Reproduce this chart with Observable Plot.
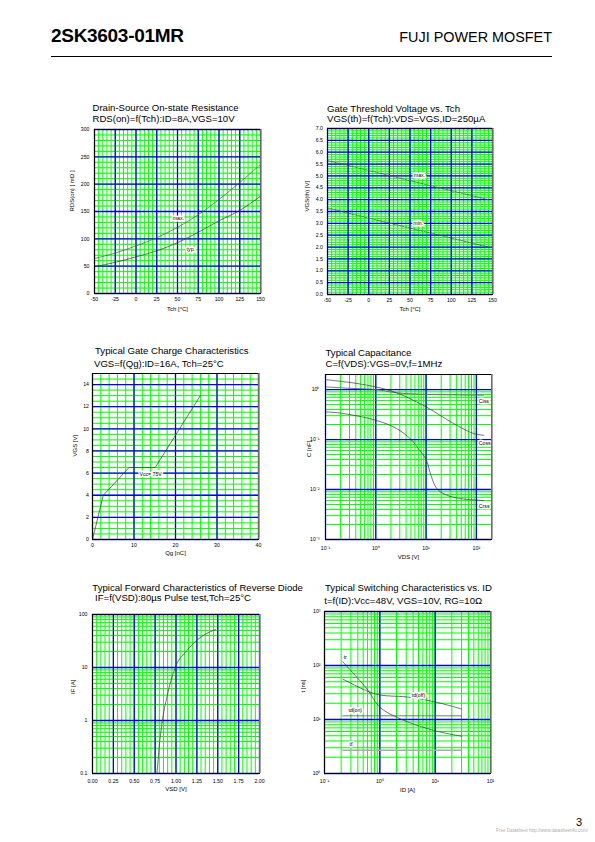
<!DOCTYPE html>
<html><head><meta charset="utf-8">
<script src="https://cdn.jsdelivr.net/npm/d3@7"></script>
<script src="https://cdn.jsdelivr.net/npm/@observablehq/plot@0.6"></script>
<style>
body{margin:0;background:#fff;}
#page{position:relative;width:595px;height:842px;overflow:hidden;font-family:"Liberation Sans",Arial,Helvetica,sans-serif;color:#000;background:#fff;}
.t{position:absolute;white-space:nowrap;}
</style></head><body><div id="page"></div>
<script>
// ---------- DATA ----------
// 1. Drain-Source On-state Resistance
const rdsTch = [-50, -25, 0, 25, 50, 75, 100, 125, 150];
const rdsTyp = [49, 57, 67, 78, 93, 112, 133, 152, 178];
const rdsMax = [64, 74, 87, 102, 121, 144, 172, 203, 236];
const rdsXTicks = [-50, -25, 0, 25, 50, 75, 100, 125, 150];
const rdsYTicks = [0, 50, 100, 150, 200, 250, 300];

// 2. Gate Threshold Voltage
const vthTch = [-50, 0, 50, 100, 145];
const vthMax = [5.65, 5.23, 4.8, 4.38, 4.0];
const vthMin = [3.65, 3.22, 2.8, 2.38, 2.0];
const vthXTicks = [-50, -25, 0, 25, 50, 75, 100, 125, 150];
const vthYTicks = [0.0, 0.5, 1.0, 1.5, 2.0, 2.5, 3.0, 3.5, 4.0, 4.5, 5.0, 5.5, 6.0, 6.5, 7.0];

// 3. Gate Charge
const qgQ = [0, 2.6, 8.8, 15.1, 26];
const qgV = [0, 4.0, 6.5, 6.5, 13.0];
const qgXTicks = [0, 10, 20, 30, 40];
const qgYTicks = [0, 2, 4, 6, 8, 10, 12, 14];

// 4. Capacitance
const cissV = [0.1, 0.3, 1, 2.6, 10, 140];
const cissC = [1.13, 1.06, 1.0, 0.86, 0.80, 0.77];
const cossV = [0.1, 0.35, 1, 2.6, 10, 35, 88, 140];
const cossC = [1.58, 1.36, 1.13, 0.86, 0.45, 0.21, 0.132, 0.122];
const crssV = [0.1, 0.19, 1, 2.6, 5.2, 7, 10, 12, 15, 18, 25, 48, 140];
const crssC = [0.356, 0.34, 0.243, 0.166, 0.097, 0.066, 0.040, 0.022, 0.012, 0.0095, 0.0078, 0.0066, 0.006];
const capXTicks = [0.1, 1, 10, 100];
const capYTicks = [0.001, 0.01, 0.1, 1];

// 5. Reverse diode forward characteristics
const ifV = [0.772, 0.8, 0.832, 0.892, 0.992, 1.132, 1.252, 1.472];
const ifA = [0.1, 0.33, 0.88, 2.8, 10, 21, 33, 52];
const ifXTicks = [0, 0.25, 0.5, 0.75, 1.0, 1.25, 1.5, 1.75, 2.0];
const ifYTicks = [0.1, 1, 10, 100];

// 6. Switching characteristics
const trI = [0.214, 0.44, 0.62, 1.0, 2.33, 9.3, 30];
const trT = [117, 52, 34, 16.9, 10.3, 6.3, 4.9];
const tdoffI = [0.214, 0.58, 1.0, 3.5, 10.7, 30];
const tdoffT = [56, 34, 28.5, 25.8, 20.8, 15.7];
const tdonI = [0.214, 30];
const tdonT = [11.7, 11.7];
const tfI = [0.214, 30];
const tfT = [2.7, 2.7];
const swXTicks = [0.1, 1, 10, 100];
const swYTicks = [1, 10, 100, 1000];

// ---------- HELPERS ----------
const page = document.getElementById("page");
const FONT = '"Liberation Sans", Arial, Helvetica, sans-serif';
function txt(s, x, base, fs, o = {}) {
  const d = document.createElement("div");
  d.className = "t";
  d.textContent = s;
  d.style.fontSize = fs + "px";
  d.style.lineHeight = fs + "px";
  d.style.top = (base - 0.8465 * fs) + "px";
  if (o.anchor === "end") d.style.right = (595 - x) + "px"; else d.style.left = x + "px";
  if (o.weight) d.style.fontWeight = o.weight;
  if (o.color) d.style.color = o.color;
  if (o.ls) d.style.letterSpacing = o.ls;
  page.appendChild(d);
}
const rows = (xs, ys) => xs.map((x, i) => ({x, y: ys[i]}));
function logMinor(lo, hi) {
  const out = [];
  for (let e = Math.floor(Math.log10(lo)); e <= Math.ceil(Math.log10(hi)); e++)
    for (let k = 1; k < 10; k++) { const v = k * Math.pow(10, e); if (v >= lo * 0.999 && v <= hi * 1.001) out.push(v); }
  return out;
}
const SUP = {"-": "\u207B", "0": "\u2070", "1": "\u00B9", "2": "\u00B2", "3": "\u00B3"};
const pow10 = d => "10" + String(Math.round(Math.log10(d))).split("").map(c => SUP[c]).join("");
const GREEN = "#00ff00", BLUE = "#0000f0", CURVE = "#333";
const lbl = (data, extra = {}) => Plot.text(data, {x: "x", y: "y", text: "s", fontSize: 5.2, fill: "#000", stroke: "#fff", strokeWidth: 3, ...extra});

function mk(c) {
  const ml = 40, mr = 16, mt = 8, mb = 30;
  const svg = Plot.plot({
    width: c.R - c.L + ml + mr, height: c.B - c.T + mt + mb,
    marginLeft: ml, marginRight: mr, marginTop: mt, marginBottom: mb,
    x: c.x, y: c.y,
    style: {fontFamily: FONT, fontSize: "5.2px", background: "transparent", color: "#000", overflow: "visible"},
    marks: [
      Plot.ruleX(c.minorX, {stroke: GREEN, strokeWidth: 1}),
      Plot.ruleY(c.minorY, {stroke: GREEN, strokeWidth: 1}),
      Plot.ruleX(c.majorX, {stroke: BLUE, strokeWidth: 1.3}),
      Plot.ruleY(c.majorY, {stroke: BLUE, strokeWidth: 1.3}),
      ...c.marks,
      Plot.frame({stroke: "#000", strokeWidth: 1}),
      Plot.ruleX([c.x.domain[1]], {stroke: "#9a9a9a", strokeWidth: 1.6, dx: 0.6}),
      Plot.axisX(c.majorX, {tickSize: 0, tickPadding: c.xPad, tickFormat: c.xFmt, label: null}),
      Plot.axisY(c.majorY, {tickSize: 0, tickPadding: c.yPad, tickFormat: c.yFmt, label: null}),
      Plot.text([c.xLabel], {frameAnchor: "bottom", dy: c.xOff, fontSize: 6}),
      Plot.text([c.yLabel], {frameAnchor: "left", dx: -c.yOff, rotate: -90, fontSize: 6})
    ]
  });
  svg.style.position = "absolute";
  svg.style.left = (c.L - ml) + "px";
  svg.style.top = (c.T - mt) + "px";
  page.appendChild(svg);
}

// ---------- HEADER ----------
txt("2SK3603-01MR", 51, 41.7, 19, {weight: "bold", ls: "-0.3px"});
txt("FUJI POWER MOSFET", 552, 41.7, 14.4, {anchor: "end"});
const hr = document.createElement("div");
hr.style.cssText = "position:absolute;left:51px;top:55.5px;width:501px;height:1.3px;background:#000;";
page.appendChild(hr);

// ---------- TITLES ----------
const TF = 9.6;
txt("Drain-Source On-state Resistance", 92.5, 110.7, TF);
txt("RDS(on)=f(Tch):ID=8A,VGS=10V", 92.5, 122.3, TF);
txt("Gate Threshold Voltage vs. Tch", 327, 111.7, TF);
txt("VGS(th)=f(Tch):VDS=VGS,ID=250\u00B5A", 327, 122.3, TF);
txt("Typical Gate Charge Characteristics", 95, 354, TF);
txt("VGS=f(Qg):ID=16A, Tch=25\u00B0C", 94, 367.3, TF);
txt("Typical Capacitance", 325.5, 355.7, TF);
txt("C=f(VDS):VGS=0V,f=1MHz", 325.5, 367.3, TF);
txt("Typical Forward Characteristics of Reverse Diode", 92.3, 590.7, TF);
txt("IF=f(VSD):80\u00B5s Pulse test,Tch=25\u00B0C", 95, 601, TF);
txt("Typical Switching Characteristics vs. ID", 325, 590.7, TF);
txt("t=f(ID):Vcc=48V, VGS=10V, RG=10\u03A9", 324.3, 604, TF);

// ---------- CHART 1 ----------
mk({L: 94, R: 260, T: 129, B: 293,
  x: {domain: [-50, 150]}, y: {domain: [0, 300]},
  minorX: d3.range(-50, 150.01, 5), minorY: d3.range(0, 300.01, 10),
  majorX: rdsXTicks, majorY: rdsYTicks, xFmt: d => String(d), yFmt: d => String(d),
  xPad: 4, yPad: 5, xLabel: "Tch [\u00B0C]", yLabel: "RDS(on) [ m\u03A9 ]", xOff: 17, yOff: 22,
  marks: [
    Plot.line(rows(rdsTch, rdsMax), {x: "x", y: "y", stroke: "#555", strokeWidth: 0.7, curve: "catmull-rom"}),
    Plot.line(rows(rdsTch, rdsTyp), {x: "x", y: "y", stroke: CURVE, strokeWidth: 0.7, curve: "catmull-rom"}),
    lbl([{x: 51, y: 137, s: "max."}, {x: 66, y: 80, s: "typ."}])
  ]});

// ---------- CHART 2 ----------
mk({L: 327, R: 492, T: 128, B: 294,
  x: {domain: [-50, 150]}, y: {domain: [0, 7]},
  minorX: d3.range(-50, 150.01, 5), minorY: d3.range(0, 7.001, 0.1),
  majorX: vthXTicks, majorY: vthYTicks, xFmt: d => String(d), yFmt: d3.format(".1f"),
  xPad: 3.5, yPad: 4.5, xLabel: "Tch [\u00B0C]", yLabel: "VGS(th) [V]", xOff: 16.5, yOff: 20.5,
  marks: [
    Plot.line(rows(vthTch, vthMax), {x: "x", y: "y", stroke: "#555", strokeWidth: 0.8, strokeDasharray: "2,1.2"}),
    Plot.line(rows(vthTch, vthMin), {x: "x", y: "y", stroke: "#555", strokeWidth: 0.8, strokeDasharray: "2,1.2"}),
    lbl([{x: 61.5, y: 5.02, s: "max."}, {x: 60, y: 3.0, s: "min."}])
  ]});

// ---------- CHART 3 ----------
mk({L: 92, R: 258, T: 373, B: 539,
  x: {domain: [0, 40]}, y: {domain: [0, 15]},
  minorX: d3.range(0, 40.01, 2), minorY: d3.range(0, 15.001, 0.5),
  majorX: qgXTicks, majorY: qgYTicks, xFmt: d => String(d), yFmt: d => String(d),
  xPad: 4, yPad: 3.5, xLabel: "Qg [nC]", yLabel: "VGS [V]", xOff: 15, yOff: 17.5,
  marks: [
    Plot.line(rows(qgQ, qgV), {x: "x", y: "y", stroke: CURVE, strokeWidth: 0.7}),
    lbl([{x: 14, y: 5.85, s: "Vcc= 75V"}])
  ]});

// ---------- CHART 4 ----------
mk({L: 325, R: 491, T: 374, B: 539,
  x: {type: "log", domain: [0.1, 200]}, y: {type: "log", domain: [0.001, 2]},
  minorX: logMinor(0.1, 200), minorY: logMinor(0.001, 2),
  majorX: capXTicks, majorY: capYTicks, xFmt: pow10, yFmt: pow10,
  xPad: 7, yPad: 6, xLabel: "VDS [V]", yLabel: "C [nF]", xOff: 19, yOff: 16,
  marks: [
    Plot.line(rows(cissV, cissC), {x: "x", y: "y", stroke: "#666", strokeWidth: 0.9, curve: "catmull-rom"}),
    Plot.line(rows(cossV, cossC), {x: "x", y: "y", stroke: CURVE, strokeWidth: 0.7, curve: "catmull-rom"}),
    Plot.line(rows(crssV, crssC), {x: "x", y: "y", stroke: CURVE, strokeWidth: 0.7, curve: "catmull-rom"}),
    lbl([{x: 112, y: 0.58, s: "Ciss"}, {x: 112, y: 0.0855, s: "Coss"}, {x: 112, y: 0.0047, s: "Crss"}], {textAnchor: "start"})
  ]});

// ---------- CHART 5 ----------
mk({L: 92, R: 259, T: 614, B: 773,
  x: {domain: [0, 2]}, y: {type: "log", domain: [0.1, 100]},
  minorX: d3.range(0, 2.001, 0.05), minorY: logMinor(0.1, 100),
  majorX: ifXTicks, majorY: ifYTicks, xFmt: d3.format(".2f"), yFmt: d3.format("~g"),
  xPad: 5.5, yPad: 5, xLabel: "VSD [V]", yLabel: "IF [A]", xOff: 17.5, yOff: 19,
  marks: [
    Plot.line(rows(ifV, ifA), {x: "x", y: "y", stroke: CURVE, strokeWidth: 0.7, curve: "monotone-x"})
  ]});

// ---------- CHART 6 ----------
mk({L: 324, R: 490, T: 611, B: 773,
  x: {type: "log", domain: [0.1, 100]}, y: {type: "log", domain: [1, 1000]},
  minorX: logMinor(0.1, 100), minorY: logMinor(1, 1000),
  majorX: swXTicks, majorY: swYTicks, xFmt: pow10, yFmt: pow10,
  xPad: 6, yPad: 4, xLabel: "ID [A]", yLabel: "t [ns]", xOff: 18.5, yOff: 21,
  marks: [
    Plot.line(rows(tfI, tfT), {x: "x", y: "y", stroke: "#aaa", strokeWidth: 1.6}),
    Plot.line(rows(tdonI, tdonT), {x: "x", y: "y", stroke: "#555", strokeWidth: 0.8}),
    Plot.line(rows(tdoffI, tdoffT), {x: "x", y: "y", stroke: CURVE, strokeWidth: 0.7, curve: "catmull-rom"}),
    Plot.line(rows(trI, trT), {x: "x", y: "y", stroke: CURVE, strokeWidth: 0.7, curve: "catmull-rom"}),
    lbl([{x: 0.237, y: 141, s: "tr"}, {x: 5.0, y: 27.8, s: "td(off)"}, {x: 0.36, y: 14.7, s: "td(on)"}, {x: 0.3, y: 3.5, s: "tf"}])
  ]});

// ---------- FOOTER ----------
txt("3", 582, 826, 11, {anchor: "end"});
txt("Free Datasheet http://www.datasheet4u.com/", 588, 832.5, 4.6, {anchor: "end", color: "#b0b0b0"});
</script>
</body></html>
